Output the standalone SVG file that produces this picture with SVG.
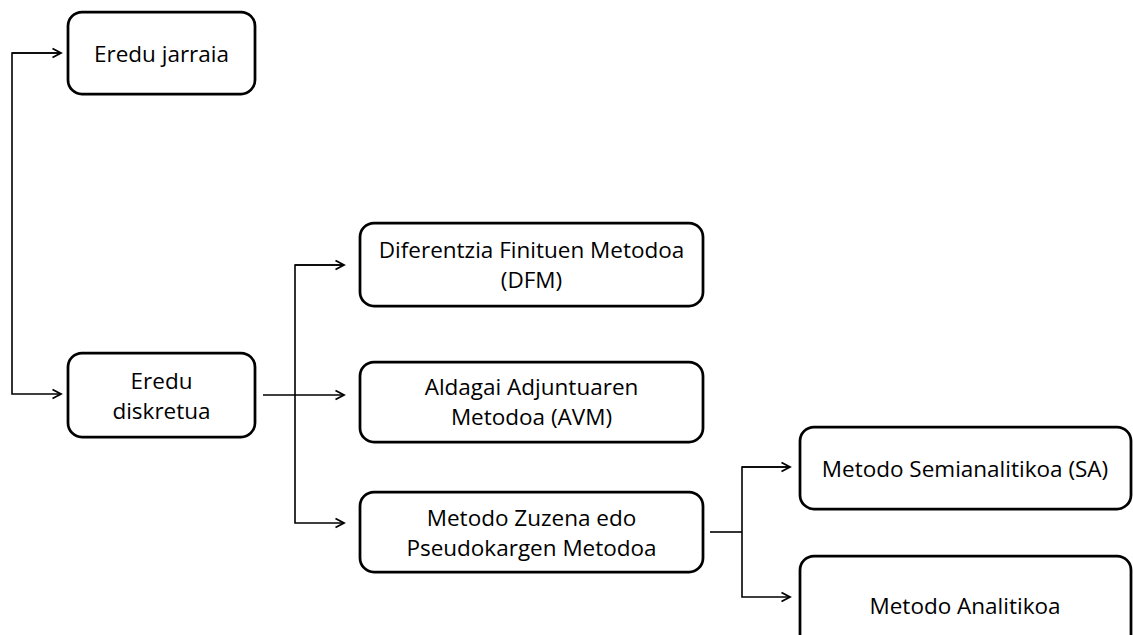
<svg xmlns="http://www.w3.org/2000/svg" width="1133" height="635" viewBox="0 0 1133 635">
  <style>
    .box { fill: #ffffff; stroke: #000000; stroke-width: 2.75; }
    .lbl { font-family: "Open Sans", "Liberation Sans", sans-serif; font-size: 22.5px; fill: #000000; text-anchor: middle; }
    .wire { fill: none; stroke: #000000; stroke-width: 1.6; }
  </style>
  <defs>
    <marker id="arrow" markerUnits="userSpaceOnUse" markerWidth="14" markerHeight="14" refX="10" refY="6" orient="auto">
      <path d="M1.5,1.5 L10,6 L1.5,10.5" fill="none" stroke="#000000" stroke-width="1.8" stroke-linejoin="miter"/>
    </marker>
  </defs>
  <rect width="1133" height="635" fill="#ffffff"/>

  <!-- connectors -->
  <g id="connectors">
    <path class="wire" d="M61,53 H12 V394 H61" marker-end="url(#arrow)"/>
    <path class="wire" d="M12,53 H61" marker-end="url(#arrow)"/>
    <path class="wire" d="M263,395 H344" marker-end="url(#arrow)"/>
    <path class="wire" d="M344,265 H295 V523 H344" marker-end="url(#arrow)"/>
    <path class="wire" d="M295,265 H344" marker-end="url(#arrow)"/>
    <path class="wire" d="M710,532 H742"/>
    <path class="wire" d="M790,467 H742 V597 H790" marker-end="url(#arrow)"/>
    <path class="wire" d="M742,467 H790" marker-end="url(#arrow)"/>
  </g>

  <g id="eredu-jarraia">
    <rect class="box" x="68" y="12" width="187" height="82" rx="14"/>
    <text class="lbl" x="161.5" y="62">Eredu jarraia</text>
  </g>

  <g id="eredu-diskretua">
    <rect class="box" x="68" y="353" width="187" height="84" rx="14"/>
    <text class="lbl" x="161.5" y="389">Eredu</text>
    <text class="lbl" x="161.5" y="419">diskretua</text>
  </g>

  <g id="dfm">
    <rect class="box" x="360" y="223" width="343" height="83" rx="14"/>
    <text class="lbl" x="531.5" y="258">Diferentzia Finituen Metodoa</text>
    <text class="lbl" x="531.5" y="288">(DFM)</text>
  </g>

  <g id="avm">
    <rect class="box" x="360" y="362" width="343" height="80" rx="14"/>
    <text class="lbl" x="531.5" y="395">Aldagai Adjuntuaren</text>
    <text class="lbl" x="531.5" y="425">Metodoa (AVM)</text>
  </g>

  <g id="metodo-zuzena">
    <rect class="box" x="360" y="492" width="343" height="80" rx="14"/>
    <text class="lbl" x="531.5" y="526">Metodo Zuzena edo</text>
    <text class="lbl" x="531.5" y="556">Pseudokargen Metodoa</text>
  </g>

  <g id="semianalitikoa">
    <rect class="box" x="800" y="427" width="331" height="82" rx="14"/>
    <text class="lbl" x="965" y="477">Metodo Semianalitikoa (SA)</text>
  </g>

  <g id="analitikoa">
    <rect class="box" x="800" y="556" width="331" height="100" rx="14"/>
    <text class="lbl" x="965" y="614">Metodo Analitikoa</text>
  </g>
</svg>
